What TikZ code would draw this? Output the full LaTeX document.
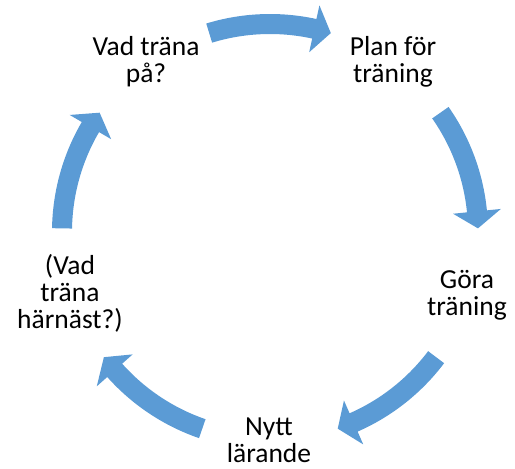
\documentclass[tikz,border=0pt]{standalone}
\usepackage{fontspec}
\setmainfont{Carlito}
\usetikzlibrary{positioning}
\definecolor{cycleblue}{HTML}{5B9BD5}

% curved block arrow round (ctr): #1 tail angle, #2 tip angle
\newcommand{\cyclearrow}[2]{%
    \fill[cycleblue, shift={(ctr)}] (#1:218pt)
        arc[start angle=#1, end angle=#2+4.7, radius=218pt]
        -- (#2+4.7:232pt) -- (#2:208pt) -- (#2+4.7:184pt) -- (#2+4.7:198pt)
        arc[start angle=#2+4.7, end angle=#1, radius=198pt] -- cycle;}

\begin{document}
\begin{tikzpicture}[x=1pt, y=1pt,
    lbl/.style={align=center, anchor=base, inner sep=0pt,
        font=\fontsize{27.5pt}{27.3pt}\selectfont}]
    \useasboundingbox (0,0) rectangle (515,469);
    \coordinate (ctr) at (270,237);
    % Arrows between the steps
    \cyclearrow{107}{73}
    \cyclearrow{35}{1}
    \cyclearrow{-37}{-71}
    \cyclearrow{-109}{-143}
    \cyclearrow{179}{145}
    % Steps of the cycle (base = last line)
    \node[lbl] (vad) at (146,386) {Vad träna\\på?};
    \node[lbl] (plan) at (393,386) {Plan för\\träning};
    \node[lbl] (gora) at (467,153) {Göra\\träning};
    \node[lbl] (nytt) at (269,6) {Nytt\\lärande};
    \node[lbl] (harnast) at (70,140) {(Vad\\träna\\härnäst?)};
\end{tikzpicture}
\end{document}
